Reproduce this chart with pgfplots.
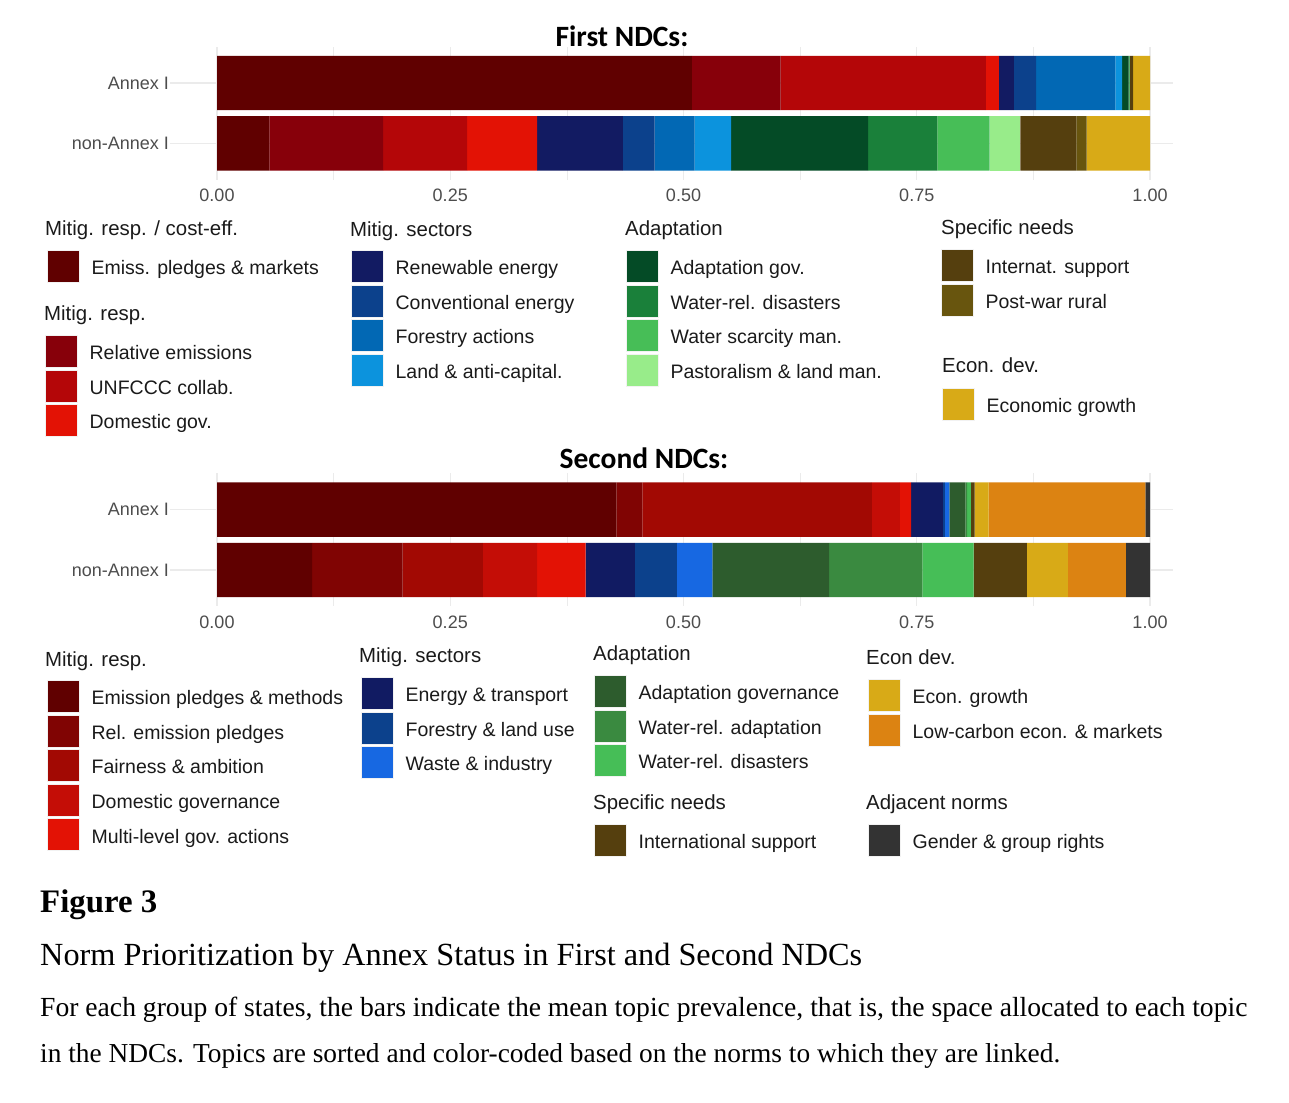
\documentclass[border=0pt]{standalone}
\usepackage{fontspec}
\setmainfont{Liberation Sans}
\newfontfamily\titlefont{Carlito}
\newfontfamily\capfont{Liberation Serif}
\usepackage{pgfplots}
\pgfplotsset{compat=1.18}
% First NDC colours
\definecolor{fA}{RGB}{96,0,0}
\definecolor{fB}{RGB}{135,0,10}
\definecolor{fC}{RGB}{180,6,8}
\definecolor{fD}{RGB}{227,18,5}
\definecolor{fE}{RGB}{18,27,98}
\definecolor{fF}{RGB}{12,65,140}
\definecolor{fG}{RGB}{2,104,180}
\definecolor{fH}{RGB}{12,147,221}
\definecolor{fI}{RGB}{4,75,38}
\definecolor{fJ}{RGB}{26,128,58}
\definecolor{fK}{RGB}{71,190,87}
\definecolor{fL}{RGB}{152,236,138}
\definecolor{fM}{RGB}{85,63,14}
\definecolor{fN}{RGB}{104,85,14}
\definecolor{fO}{RGB}{216,170,23}
% Second NDC colours
\definecolor{sA}{RGB}{96,0,0}
\definecolor{sB}{RGB}{128,4,3}
\definecolor{sC}{RGB}{162,9,3}
\definecolor{sD}{RGB}{196,13,6}
\definecolor{sE}{RGB}{227,18,5}
\definecolor{sF}{RGB}{17,27,98}
\definecolor{sG}{RGB}{12,65,140}
\definecolor{sH}{RGB}{23,104,226}
\definecolor{sI}{RGB}{45,92,45}
\definecolor{sJ}{RGB}{58,138,64}
\definecolor{sK}{RGB}{70,190,87}
\definecolor{sL}{RGB}{85,63,14}
\definecolor{sM}{RGB}{216,170,23}
\definecolor{sN}{RGB}{220,131,18}
\definecolor{sO}{RGB}{51,51,51}
\definecolor{tickgray}{RGB}{77,77,77}
\definecolor{gridgray}{RGB}{235,235,235}
\definecolor{legtext}{RGB}{26,26,26}
\definecolor{keyedge}{RGB}{242,242,242}

\pgfplotsset{
 barax/.style={scale only axis, width=1002.98pt, height=132.8pt, anchor=south west,
   xbar stacked, bar width=54.3pt,
   xmin=-0.05, xmax=1.025, ymin=-0.6, ymax=1.6,
   xtick={0,0.25,0.5,0.75,1}, minor xtick={0.125,0.375,0.625,0.875},
   xticklabels={0.00,0.25,0.50,0.75,1.00},
   ytick={0,1}, yticklabels={non-Annex I,Annex I},
   grid=both,
   major grid style={draw=gridgray, line width=1.1pt},
   minor grid style={draw=gridgray, line width=0.55pt},
   axis line style={draw=none}, major tick length=0pt, minor tick length=0pt,
   tick label style={font=\fontsize{18}{20}\selectfont, text=tickgray},
   /pgf/number format/assume math mode=true,
   xticklabel style={yshift=-6pt}, yticklabel style={xshift=2pt}},
 legblk/.style={hide axis, scale only axis, width=5pt, height=5pt,
   xmin=0, xmax=1, ymin=0, ymax=1, anchor=north west,
   legend cell align=left,
   legend style={at={(0,1)}, anchor=north west, draw=none, fill=none,
     inner sep=0pt, outer sep=0pt, row sep=2pt,
     font=\fontsize{19.5}{22}\selectfont, text=legtext,
     nodes={inner sep=0pt},
     /tikz/every odd column/.append style={column sep=12pt}},
   legend image code/.code={\fill[##1, draw=keyedge, line width=0.6pt] (0pt,-14pt) rectangle (32pt,18pt);}},
}
\newcommand{\lt}{\fontsize{20.4}{23}\selectfont\color{legtext}}

\begin{document}
\begin{tikzpicture}[x=1pt,y=1pt]
\path[use as bounding box] (0,0) rectangle (1289,1102);

% ---------------- First NDCs ----------------
\begin{axis}[barax, at={(170.35pt,922.4pt)}]
\addplot[fill=fA, draw=none] coordinates {(0.509,1) (0.056,0)};
\addplot[fill=fB, draw=none] coordinates {(0.095,1) (0.122,0)};
\addplot[fill=fC, draw=none] coordinates {(0.220,1) (0.090,0)};
\addplot[fill=fD, draw=none] coordinates {(0.014,1) (0.075,0)};
\addplot[fill=fE, draw=none] coordinates {(0.016,1) (0.092,0)};
\addplot[fill=fF, draw=none] coordinates {(0.024,1) (0.034,0)};
\addplot[fill=fG, draw=none] coordinates {(0.085,1) (0.043,0)};
\addplot[fill=fH, draw=none] coordinates {(0.007,1) (0.039,0)};
\addplot[fill=fI, draw=none] coordinates {(0.007,1) (0.147,0)};
\addplot[fill=fJ, draw=none] coordinates {(0.001,1) (0.074,0)};
\addplot[fill=fK, draw=none] coordinates {(0.0005,1) (0.056,0)};
\addplot[fill=fL, draw=none] coordinates {(0.0,1) (0.033,0)};
\addplot[fill=fM, draw=none] coordinates {(0.003,1) (0.060,0)};
\addplot[fill=fN, draw=none] coordinates {(0.0005,1) (0.011,0)};
\addplot[fill=fO, draw=none] coordinates {(0.018,1) (0.068,0)};
\end{axis}
\node[font=\titlefont\bfseries\fontsize{29.5}{32}\selectfont, anchor=base] at (622,1055) {First NDCs:};

% legend first
\node[anchor=base west, inner sep=0, font=\lt] at (45,866) {Mitig. resp. / cost-eff.};
\node[anchor=base west, inner sep=0, font=\lt] at (44,781) {Mitig. resp.};
\node[anchor=base west, inner sep=0, font=\lt] at (350,865) {Mitig. sectors};
\node[anchor=base west, inner sep=0, font=\lt] at (625,866) {Adaptation};
\node[anchor=base west, inner sep=0, font=\lt] at (941,867) {Specific needs};
\node[anchor=base west, inner sep=0, font=\lt] at (942,729) {Econ. dev.};

\begin{axis}[legblk, at={(47pt,852pt)}]
\addlegendimage{fill=fA}\addlegendentry{Emiss. pledges \& markets}
\end{axis}
\begin{axis}[legblk, at={(45pt,767pt)}]
\addlegendimage{fill=fB}\addlegendentry{Relative emissions}
\addlegendimage{fill=fC}\addlegendentry{UNFCCC collab.}
\addlegendimage{fill=fD}\addlegendentry{Domestic gov.}
\end{axis}
\begin{axis}[legblk, at={(351pt,852pt)}]
\addlegendimage{fill=fE}\addlegendentry{Renewable energy}
\addlegendimage{fill=fF}\addlegendentry{Conventional energy}
\addlegendimage{fill=fG}\addlegendentry{Forestry actions}
\addlegendimage{fill=fH}\addlegendentry{Land \& anti-capital.}
\end{axis}
\begin{axis}[legblk, at={(626pt,852pt)}]
\addlegendimage{fill=fI}\addlegendentry{Adaptation gov.}
\addlegendimage{fill=fJ}\addlegendentry{Water-rel. disasters}
\addlegendimage{fill=fK}\addlegendentry{Water scarcity man.}
\addlegendimage{fill=fL}\addlegendentry{Pastoralism \& land man.}
\end{axis}
\begin{axis}[legblk, at={(941pt,853pt)}]
\addlegendimage{fill=fM}\addlegendentry{Internat. support}
\addlegendimage{fill=fN}\addlegendentry{Post-war rural}
\end{axis}
\begin{axis}[legblk, at={(942pt,714pt)}]
\addlegendimage{fill=fO}\addlegendentry{Economic growth}
\end{axis}

% ---------------- Second NDCs ----------------
\begin{axis}[barax, at={(170.35pt,495.8pt)}]
\addplot[fill=sA, draw=none] coordinates {(0.428,1) (0.102,0)};
\addplot[fill=sB, draw=none] coordinates {(0.028,1) (0.097,0)};
\addplot[fill=sC, draw=none] coordinates {(0.246,1) (0.086,0)};
\addplot[fill=sD, draw=none] coordinates {(0.030,1) (0.058,0)};
\addplot[fill=sE, draw=none] coordinates {(0.012,1) (0.052,0)};
\addplot[fill=sF, draw=none] coordinates {(0.034,1) (0.053,0)};
\addplot[fill=sG, draw=none] coordinates {(0.002,1) (0.045,0)};
\addplot[fill=sH, draw=none] coordinates {(0.005,1) (0.038,0)};
\addplot[fill=sI, draw=none] coordinates {(0.017,1) (0.125,0)};
\addplot[fill=sJ, draw=none] coordinates {(0.002,1) (0.100,0)};
\addplot[fill=sK, draw=none] coordinates {(0.004,1) (0.055,0)};
\addplot[fill=sL, draw=none] coordinates {(0.004,1) (0.057,0)};
\addplot[fill=sM, draw=none] coordinates {(0.015,1) (0.044,0)};
\addplot[fill=sN, draw=none] coordinates {(0.168,1) (0.062,0)};
\addplot[fill=sO, draw=none] coordinates {(0.005,1) (0.026,0)};
\end{axis}
\node[font=\titlefont\bfseries\fontsize{29.5}{32}\selectfont, anchor=base] at (644,633) {Second NDCs:};

\node[anchor=base west, inner sep=0, font=\lt] at (45,435) {Mitig. resp.};
\node[anchor=base west, inner sep=0, font=\lt] at (359,439) {Mitig. sectors};
\node[anchor=base west, inner sep=0, font=\lt] at (593,441) {Adaptation};
\node[anchor=base west, inner sep=0, font=\lt] at (593,292) {Specific needs};
\node[anchor=base west, inner sep=0, font=\lt] at (866,437) {Econ dev.};
\node[anchor=base west, inner sep=0, font=\lt] at (866,292) {Adjacent norms};

\begin{axis}[legblk, at={(47pt,422pt)}]
\addlegendimage{fill=sA}\addlegendentry{Emission pledges \& methods}
\addlegendimage{fill=sB}\addlegendentry{Rel. emission pledges}
\addlegendimage{fill=sC}\addlegendentry{Fairness \& ambition}
\addlegendimage{fill=sD}\addlegendentry{Domestic governance}
\addlegendimage{fill=sE}\addlegendentry{Multi-level gov. actions}
\end{axis}
\begin{axis}[legblk, at={(361pt,425pt)}]
\addlegendimage{fill=sF}\addlegendentry{Energy \& transport}
\addlegendimage{fill=sG}\addlegendentry{Forestry \& land use}
\addlegendimage{fill=sH}\addlegendentry{Waste \& industry}
\end{axis}
\begin{axis}[legblk, at={(594pt,427pt)}]
\addlegendimage{fill=sI}\addlegendentry{Adaptation governance}
\addlegendimage{fill=sJ}\addlegendentry{Water-rel. adaptation}
\addlegendimage{fill=sK}\addlegendentry{Water-rel. disasters}
\end{axis}
\begin{axis}[legblk, at={(594pt,278pt)}]
\addlegendimage{fill=sL}\addlegendentry{International support}
\end{axis}
\begin{axis}[legblk, at={(868pt,423pt)}]
\addlegendimage{fill=sM}\addlegendentry{Econ. growth}
\addlegendimage{fill=sN}\addlegendentry{Low-carbon econ. \& markets}
\end{axis}
\begin{axis}[legblk, at={(868pt,278pt)}]
\addlegendimage{fill=sO}\addlegendentry{Gender \& group rights}
\end{axis}

% ---------------- Caption ----------------
\node[anchor=base west, inner sep=0] at (40,189) {\resizebox{117pt}{!}{\capfont\bfseries Figure 3}};
\node[anchor=base west, inner sep=0] at (40,136) {\resizebox{822pt}{!}{\capfont Norm Prioritization by Annex Status in First and Second NDCs}};
\node[anchor=base west, inner sep=0] at (40,85) {\resizebox{1207pt}{!}{\capfont For each group of states, the bars indicate the mean topic prevalence, that is, the space allocated to each topic}};
\node[anchor=base west, inner sep=0] at (40,40) {\resizebox{1020pt}{!}{\capfont in the NDCs. Topics are sorted and color-coded based on the norms to which they are linked.}};
\end{tikzpicture}
\end{document}
